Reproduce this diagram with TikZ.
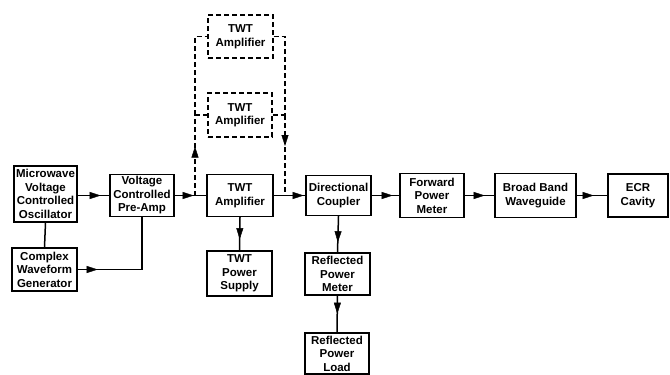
\documentclass[tikz,border=0pt]{standalone}
\usepackage{fontspec}
\setmainfont{Liberation Sans}
\usetikzlibrary{arrows.meta,decorations.markings}
\tikzset{
  box/.style={draw, line width=1.4pt, align=center, inner sep=0pt,
    font=\bfseries\fontsize{11.5}{13.5}\selectfont},
  dbox/.style={box, dash pattern=on 5pt off 3pt},
  conn/.style={line width=1.5pt},
  dconn/.style={line width=1.3pt, dash pattern=on 5pt off 3pt},
  tipat/.style={postaction={decorate}, decoration={markings,
    mark=at position #1 with {\arrow[line width=0.4pt]{Triangle[length=11pt,width=7pt]}}}},
}
\begin{document}
\begin{tikzpicture}[x=1pt,y=-1pt]
\useasboundingbox (0,0) rectangle (670,375);
% nodes
\node[box, minimum width=63pt, minimum height=56pt] (vco) at (45.5,194) {Microwave\\Voltage\\Controlled\\Oscillator};
\node[box, minimum width=65pt, minimum height=43pt] (cwg) at (44.5,269.5) {Complex\\Waveform\\Generator};
\node[box, minimum width=64pt, minimum height=42pt] (pre) at (142,195.5) {Voltage\\Controlled\\Pre-Amp};
\node[box, minimum width=66pt, minimum height=42pt] (twt) at (240,195.5) {TWT\\Amplifier};
\node[dbox, minimum width=65pt, minimum height=43pt] (twt1) at (240.5,36.5) {TWT\\Amplifier};
\node[dbox, minimum width=64pt, minimum height=44pt] (twt2) at (240,115) {TWT\\Amplifier};
\node[box, minimum width=65pt, minimum height=40pt] (dc) at (338.5,195.5) {Directional\\Coupler};
\node[box, minimum width=65pt, minimum height=45pt] (ps) at (239.5,273.5) {TWT\\Power\\Supply};
\node[box, minimum width=65pt, minimum height=42pt] (rpm) at (337.5,274) {Reflected\\Power\\Meter};
\node[box, minimum width=64pt, minimum height=41pt] (rpl) at (337,353.5) {Reflected\\Power\\Load};
\node[box, minimum width=64pt, minimum height=44pt] (fpm) at (432,195.5) {Forward\\Power\\Meter};
\node[box, minimum width=81pt, minimum height=44pt] (bbw) at (535.5,195.5) {Broad Band\\Waveguide};
\node[box, minimum width=60pt, minimum height=43pt] (ecr) at (638,195.5) {ECR\\Cavity};
% junctions for the dashed bypass
\coordinate (jl) at (195,195.5);
\coordinate (jr) at (285,195.5);
% solid connectors
\draw[conn, tipat=23pt] (vco.east |- pre.west) -- (pre.west);
\draw[conn] (vco.south) -- (cwg.north);
\draw[conn, tipat=20pt] (cwg.east) -| (pre.south);
\draw[conn, tipat=19pt] (pre.east) -- (twt.west);
\draw[conn, tipat=30pt] (twt.east) -- (dc.west);
\draw[conn, tipat=21pt] (dc.east) -- (fpm.west);
\draw[conn, tipat=20pt] (fpm.east) -- (bbw.west);
\draw[conn, tipat=17pt] (bbw.east) -- (ecr.west);
\draw[conn, tipat=22pt] (twt.south) -- (ps.north);
\draw[conn, tipat=26pt] (dc.south) -- (rpm.north);
\draw[conn, tipat=18pt] (rpm.south) -- (rpl.north);
% dashed bypass connectors
\draw[dconn, tipat=49pt] (jl) -- (jl |- twt2.west);
\draw[dconn] (jl |- twt2.west) |- (twt1.west);
\draw[dconn] (jl |- twt2.west) -- (twt2.west);
\draw[dconn] (twt1.east) -| (jr |- twt2.east);
\draw[dconn] (twt2.east) -- (jr |- twt2.east);
\draw[dconn, tipat=31pt] (jr |- twt2.east) -- (jr);
\end{tikzpicture}
\end{document}
